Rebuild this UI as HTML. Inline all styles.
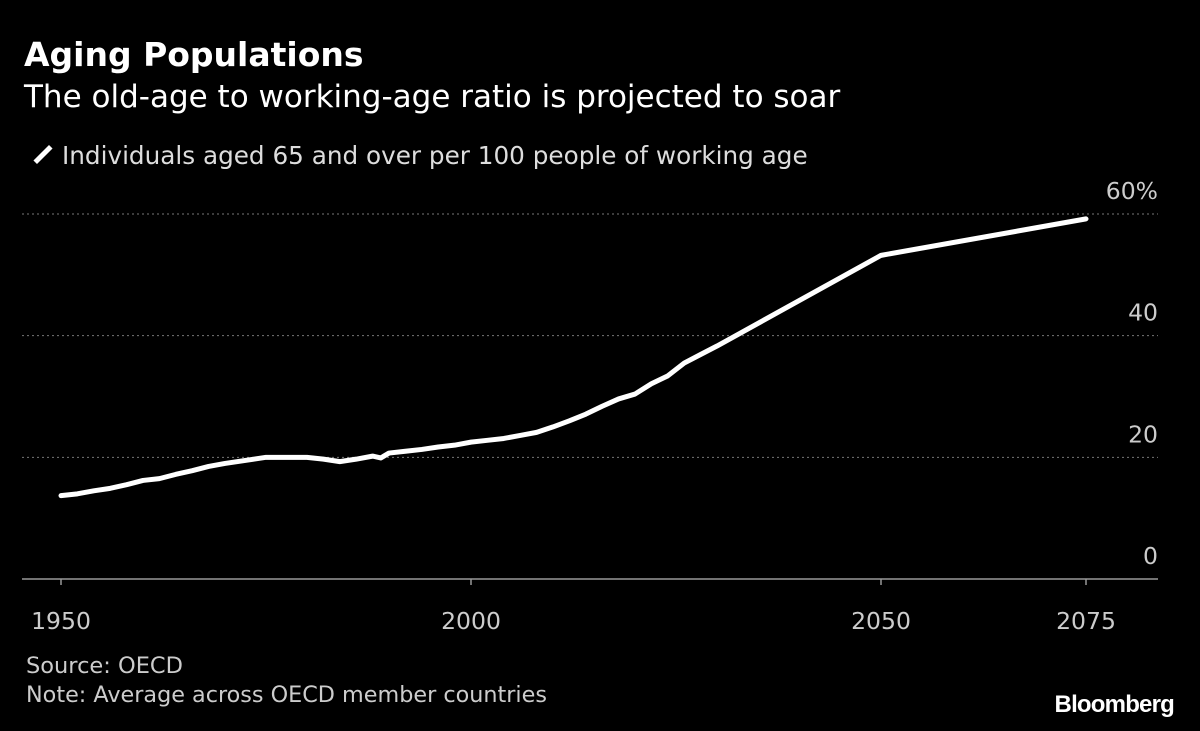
<!DOCTYPE html>
<html><head><meta charset="utf-8"><style>
body{margin:0;background:#000;width:1200px;height:731px;overflow:hidden;font-family:"DejaVu Sans",sans-serif;color:#fff}
.t{position:absolute;white-space:nowrap}
</style></head><body>
<div class="t" style="left:24px;top:35px;font-size:33px;font-weight:bold">Aging Populations</div>
<div class="t" style="left:24px;top:79px;font-size:31px">The old-age to working-age ratio is projected to soar</div>
<div class="t" style="left:32px;top:141px;font-size:24.7px;color:#ddd"><span style="display:inline-block;width:22px;height:5px;background:#fff;transform:rotate(-45deg);vertical-align:middle;margin-right:8px;position:relative;top:-3px"></span>Individuals aged 65 and over per 100 people of working age</div>
<svg id="c" width="1200" height="731" style="position:absolute;left:0;top:0"></svg>
<div class="t" style="left:26px;top:653px;font-size:22.5px;color:#ccc">Source: OECD</div>
<div class="t" style="left:26px;top:682px;font-size:22.3px;color:#ccc">Note: Average across OECD member countries</div>
<div class="t" style="right:26px;top:691px;font-size:24px;font-weight:bold;letter-spacing:-0.8px;font-family:'Liberation Sans',sans-serif">Bloomberg</div>
<script>
const years=[1950,1952,1954,1956,1958,1960,1962,1964,1966,1968,1970,1975,1980,1982,1984,1986,1988,1989,1990,1992,1994,1996,1998,2000,2002,2004,2006,2008,2010,2012,2014,2016,2018,2020,2022,2024,2026,2028,2030,2050,2075];
const ratio=[13.7,14.0,14.5,14.9,15.5,16.2,16.5,17.2,17.8,18.5,19.0,20.0,20.0,19.7,19.3,19.7,20.2,19.9,20.7,21.0,21.3,21.7,22.0,22.5,22.8,23.1,23.6,24.1,25.0,26.0,27.1,28.4,29.6,30.4,32.1,33.4,35.5,36.9,38.3,53.2,59.2];
const yTicks=[0,20,40,60];
const yTickLabels=["0","20","40","60%"];
const xTicks=[1950,2000,2050,2075];
const ns="http://www.w3.org/2000/svg",svg=document.getElementById('c');
const X=v=>61+(v-1950)*(1086-61)/125, Y=v=>579-v*(579-214)/60;
function mk(t,a){const e=document.createElementNS(ns,t);for(const k in a)e.setAttribute(k,a[k]);svg.appendChild(e);return e;}
yTicks.forEach((v,i)=>{
  if(v>0){const g=mk('line',{x1:22,x2:1158,y1:Y(v),y2:Y(v),stroke:'#777','stroke-width':1,'stroke-dasharray':'2,3'});
  
  }
  const t=mk('text',{x:1158,y:Y(v)-15,'text-anchor':'end','font-size':23.5,fill:'#ccc','font-family':'DejaVu Sans, sans-serif'});
  t.textContent=yTickLabels[i];
  
  
});
const ax=mk('line',{x1:22,x2:1158,y1:579,y2:579,stroke:'#999','stroke-width':1.5});


xTicks.forEach(v=>{
  const tk=mk('line',{x1:X(v),x2:X(v),y1:579,y2:585,stroke:'#999','stroke-width':1.5});
  
  
  const t=mk('text',{x:X(v),y:629,'text-anchor':'middle','font-size':23.5,fill:'#ccc','font-family':'DejaVu Sans, sans-serif'});
  t.textContent=v;
  
  
});
const p=mk('polyline',{points:years.map((y,i)=>X(y)+','+Y(ratio[i])).join(' '),fill:'none',stroke:'#fff','stroke-width':5,'stroke-linejoin':'round','stroke-linecap':'round'});


</script>
</body></html>
